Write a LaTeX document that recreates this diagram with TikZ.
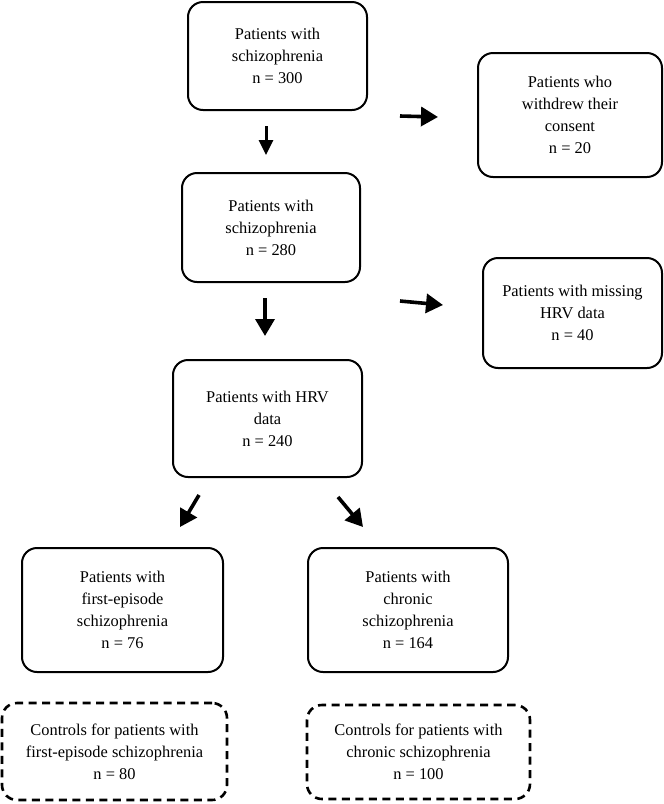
\documentclass[tikz,border=0pt]{standalone}
\usepackage{fontspec}
\setmainfont{Liberation Serif}
\usetikzlibrary{arrows.meta}
\begin{document}
\begin{tikzpicture}[x=1pt,y=-1pt,
  box/.style={draw=black, line width=2pt, rounded corners=15pt, align=center, inner sep=0pt,
    font=\fontsize{16.4pt}{22pt}\selectfont},
  dbox/.style={box, line width=2.6pt, dash pattern=on 8pt off 5.5pt},
  arr/.style={line width=3.6pt, -{Triangle[length=17pt,width=19pt]}},
  sarr/.style={line width=3pt, -{Triangle[length=15pt,width=14pt]}}
]
\useasboundingbox (0,0) rectangle (664,804);
\node[box, minimum width=179pt, minimum height=108pt] (b1) at (277.5,56) {Patients with\\schizophrenia\\n = 300};
\node[box, minimum width=184pt, minimum height=124pt] (bw) at (570,115) {Patients who\\withdrew their\\consent\\n = 20};
\node[box, minimum width=178pt, minimum height=109pt] (b2) at (271,227.5) {Patients with\\schizophrenia\\n = 280};
\node[box, minimum width=179pt, minimum height=110pt] (bm) at (572.5,313) {Patients with missing\\HRV data\\n = 40};
\node[box, minimum width=189pt, minimum height=117pt] (b3) at (267.5,418.5) {Patients with HRV\\data\\n = 240};
\node[box, minimum width=201pt, minimum height=124pt] (bfe) at (122.5,610) {Patients with\\first-episode\\schizophrenia\\n = 76};
\node[box, minimum width=200pt, minimum height=124pt] (bch) at (408,610) {Patients with\\chronic\\schizophrenia\\n = 164};
\node[dbox, minimum width=225pt, minimum height=97pt] (cfe) at (114.5,751.5) {Controls for patients with\\first-episode schizophrenia\\n = 80};
\node[dbox, minimum width=223pt, minimum height=94pt] (cch) at (418.5,752) {Controls for patients with\\chronic schizophrenia\\n = 100};

\coordinate (a1s) at (266,126);  \coordinate (a1e) at (266,155);
\coordinate (r1s) at (400,116);  \coordinate (r1e) at (438,117);
\coordinate (a2s) at (265,298);  \coordinate (a2e) at (265,336);
\coordinate (r2s) at (400,301);  \coordinate (r2e) at (443,305);
\coordinate (d1s) at (199,495);  \coordinate (d1e) at (180,527);
\coordinate (d2s) at (338,497);  \coordinate (d2e) at (363,527);

\draw[sarr] (a1s) -- (a1e);
\draw[arr] (r1s) -- (r1e);
\draw[arr] (a2s) -- (a2e);
\draw[arr] (r2s) -- (r2e);
\draw[arr] (d1s) -- (d1e);
\draw[arr] (d2s) -- (d2e);
\end{tikzpicture}
\end{document}
